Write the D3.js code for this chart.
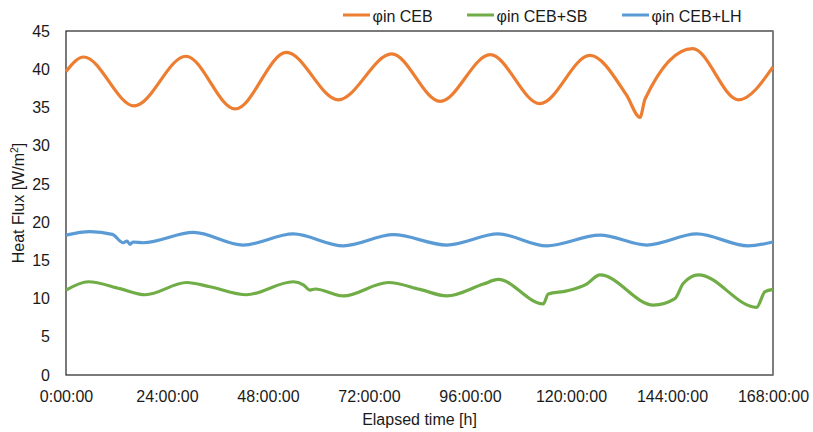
<!DOCTYPE html>
<html>
<head>
<meta charset="utf-8">
<script src="https://cdn.jsdelivr.net/npm/d3@7"></script>
<style>
  body { margin: 0; background: #fff; }
  svg { font-family: "Liberation Sans", Arial, sans-serif; }
  .tick text { fill: #1a1a1a; font-size: 16px; }
</style>
</head>
<body>
<svg width="813" height="432"></svg>
<script>
// series names
var seriesNames = ["\u03c6in CEB", "\u03c6in CEB+SB", "\u03c6in CEB+LH"];

// elapsed hours / heat flux
var cebHours = [0, 4.2, 16.2, 28.5, 40.2, 52.4, 64.7, 77.4, 88.9, 100.8, 112.6, 124.5, 133.2, 136.4, 137.6, 148.9, 159.8, 168];
var cebFlux  = [39.7, 41.6, 35.2, 41.7, 34.8, 42.2, 36.0, 42.0, 35.8, 41.9, 35.5, 41.8, 36.6, 33.7, 36.1, 42.7, 36.0, 40.3];

var sbHours = [0, 5.3, 12.8, 18.8, 28.7, 34.2, 42.9, 54, 56.4, 58, 59.2, 65.9, 76.6, 84.1, 90.5, 99.2, 102.7, 113.4, 114.6, 119, 123.7, 126.9, 139.6, 144.7, 146.7, 150.3, 164.1, 166.1, 168];
var sbFlux  = [11.1, 12.2, 11.3, 10.5, 12.1, 11.55, 10.5, 12.2, 11.8, 11.1, 11.25, 10.35, 12.1, 11.2, 10.35, 11.9, 12.5, 9.3, 10.6, 11.0, 11.9, 13.1, 9.15, 10.0, 12.0, 13.1, 8.85, 10.9, 11.2];

var lhHours = [0, 5.7, 11, 13.6, 14.5, 15.2, 15.9, 18.4, 30.3, 42.1, 54, 65.9, 77.8, 90.5, 102.7, 114.2, 126.9, 138, 149.9, 162.1, 168];
var lhFlux  = [18.3, 18.75, 18.4, 17.3, 17.5, 17.1, 17.4, 17.3, 18.65, 17.0, 18.45, 16.9, 18.35, 17.0, 18.45, 16.9, 18.3, 17.0, 18.45, 16.9, 17.4];

var xTicks = [0, 24, 48, 72, 96, 120, 144, 168];
var yTicks = [0, 5, 10, 15, 20, 25, 30, 35, 40, 45];

var colors = ["#ED7D31", "#70AD47", "#5B9BD5"];

var svg = d3.select("svg"),
    margin = {top: 31, right: 40, bottom: 57, left: 66},
    width = +svg.attr("width") - margin.left - margin.right,
    height = +svg.attr("height") - margin.top - margin.bottom;

var g = svg.append("g").attr("transform", "translate(" + margin.left + "," + margin.top + ")");

var x = d3.scaleLinear().domain([0, 168]).range([0, width]);
var y = d3.scaleLinear().domain([0, 45]).range([height, 0]);

// axes
g.append("g")
    .attr("transform", "translate(0," + height + ")")
    .call(d3.axisBottom(x).tickValues(xTicks).tickSize(0).tickPadding(16)
      .tickFormat(function(d) { return d + ":00:00"; }))
    .call(function(a) { a.select(".domain").remove(); });

g.append("g")
    .call(d3.axisLeft(y).tickValues(yTicks).tickSize(0).tickPadding(16))
    .call(function(a) { a.select(".domain").remove(); });

// plot frame
g.append("rect")
    .attr("width", width).attr("height", height)
    .attr("fill", "none").attr("stroke", "#222").attr("stroke-width", 1.2);
g.append("line")
    .attr("x1", width).attr("x2", width).attr("y1", 0).attr("y2", height)
    .attr("stroke", "#808080").attr("stroke-width", 1.5);

var line = d3.line()
    .x(function(d) { return x(d[0]); })
    .y(function(d) { return y(d[1]); })
    .curve(d3.curveMonotoneX);

var series = [
  d3.zip(cebHours, cebFlux),
  d3.zip(sbHours, sbFlux),
  d3.zip(lhHours, lhFlux)
];

series.forEach(function(s, i) {
  g.append("path")
      .datum(s)
      .attr("fill", "none")
      .attr("stroke", colors[i])
      .attr("stroke-width", 3.2)
      .attr("stroke-linejoin", "round")
      .attr("d", line);
});

// axis titles
svg.append("text")
    .attr("x", margin.left + width / 2).attr("y", 425)
    .attr("text-anchor", "middle")
    .attr("font-size", "16px").attr("fill", "#1a1a1a")
    .text("Elapsed time [h]");

svg.append("text")
    .attr("transform", "translate(24," + (margin.top + height / 2) + ") rotate(-90)")
    .attr("text-anchor", "middle")
    .attr("font-size", "16px").attr("fill", "#1a1a1a")
    .html("Heat Flux [W/m<tspan baseline-shift=\"super\" font-size=\"10.5px\">2</tspan>]");

// legend
var legendX = [343, 467, 622];
var legend = svg.selectAll(".legend")
    .data(seriesNames)
  .enter().append("g")
    .attr("class", "legend")
    .attr("transform", function(d, i) { return "translate(" + legendX[i] + ",15)"; });

legend.append("line")
    .attr("x1", 0).attr("x2", 27)
    .attr("stroke", function(d, i) { return colors[i]; })
    .attr("stroke-width", 3);

legend.append("text")
    .attr("x", 29.5).attr("y", 6.5)
    .attr("font-size", "16px").attr("fill", "#1a1a1a")
    .text(function(d) { return d; });
</script>
</body>
</html>
